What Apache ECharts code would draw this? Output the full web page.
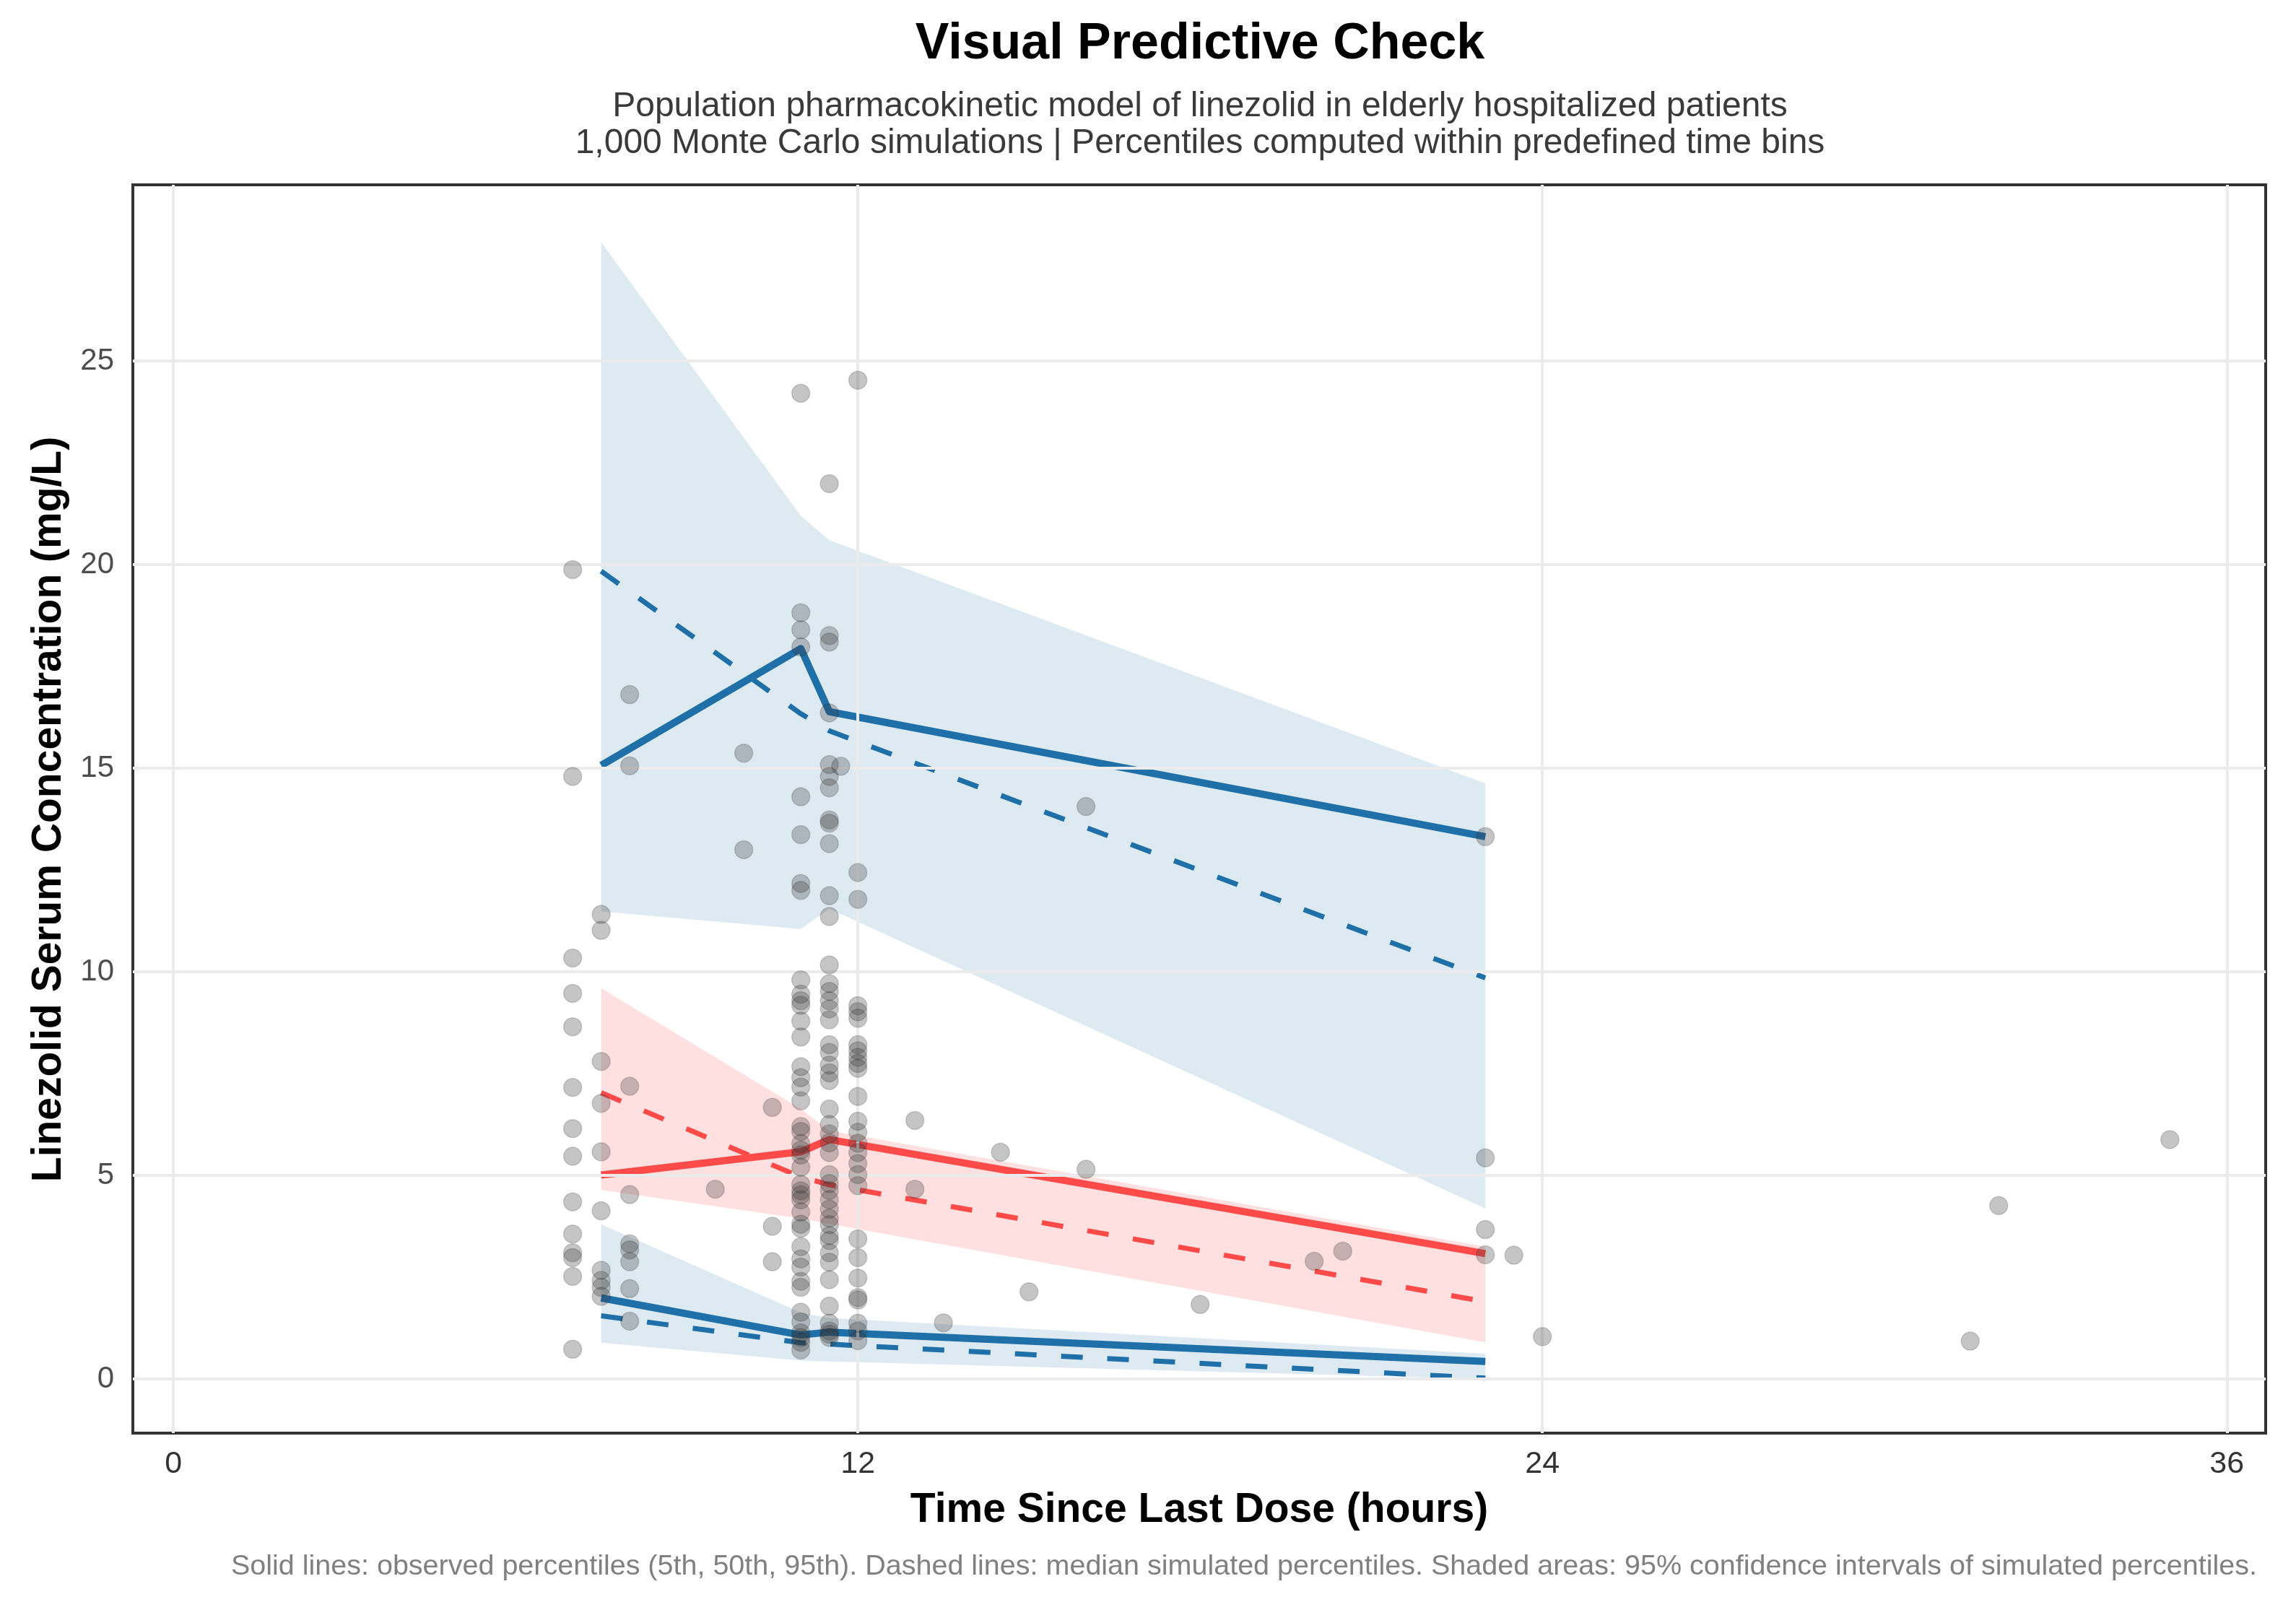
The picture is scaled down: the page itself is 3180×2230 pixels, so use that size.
<!DOCTYPE html>
<html>
<head>
<meta charset="utf-8">
<script src="https://cdn.jsdelivr.net/npm/echarts@6/dist/echarts.min.js"></script>
<style>
html,body{margin:0;padding:0;background:#fff;}
#chart{width:3180px;height:2230px;}
</style>
</head>
<body>
<div id="chart"></div>
<script>
// ---------- DATA ----------
const binTimes = [7.5, 11, 11.5, 23];
// observed percentiles (solid lines)
const obsP05 = [1.99, 1.08, 1.15, 0.43];
const obsP50 = [5.01, 5.58, 5.88, 3.08];
const obsP95 = [15.07, 17.94, 16.39, 13.32];
// median of simulated percentiles (dashed lines)
const simP05Med = [1.55, 0.89, 0.855, 0.02];
const simP50Med = [7.03, 4.96, 4.77, 1.90];
const simP95Med = [19.84, 16.34, 15.92, 9.85];
// 95% CI of simulated percentiles (shaded areas)
const simP05Lo = [0.89, 0.45, 0.43, 0.0];
const simP05Hi = [3.80, 1.63, 1.50, 0.62];
const simP50Lo = [4.64, 3.94, 3.81, 0.90];
const simP50Hi = [9.60, 6.63, 6.10, 3.25];
const simP95Lo = [11.48, 11.05, 11.55, 4.19];
const simP95Hi = [27.92, 21.2, 20.6, 14.63];

// observed concentrations, grouped by sampling time
const obsTimes = [7.0, 7.5, 8.0, 9.5, 10.0, 10.5, 11.0, 11.5, 11.7, 12.0, 13.0, 13.5, 14.5, 15.0, 16.0, 18.0, 20.0, 20.5, 23.0, 23.5, 24.0, 31.5, 32.0, 35.0];
const obsConcs = [
  [19.88, 14.80, 10.34, 9.47, 8.65, 7.16, 6.15, 5.47, 4.35, 3.56, 3.10, 2.98, 2.52, 0.73],
  [11.41, 11.02, 7.80, 6.77, 5.58, 4.13, 2.67, 2.42, 2.25, 2.03],
  [16.81, 15.06, 7.19, 4.53, 3.32, 3.17, 2.88, 2.22, 1.42],
  [4.66],
  [15.37, 13.00],
  [6.67, 3.75, 2.88],
  [24.21, 18.82, 18.40, 17.98, 14.30, 13.37, 12.17, 12.00, 9.80, 9.45, 9.29, 9.18, 8.79, 8.40, 7.67, 7.40, 7.17, 6.83, 6.20, 6.08, 5.78, 5.62, 5.50, 5.20, 4.78, 4.62, 4.52, 4.40, 4.10, 3.80, 3.70, 3.25, 2.95, 2.75, 2.40, 2.25, 1.64, 1.40, 1.13, 1.02, 0.90, 0.71],
  [21.99, 18.26, 18.10, 16.36, 15.09, 14.80, 14.52, 13.73, 13.65, 13.15, 11.87, 11.36, 10.17, 9.71, 9.52, 9.29, 9.09, 8.82, 8.21, 8.02, 7.71, 7.52, 7.33, 6.63, 6.25, 6.02, 5.80, 5.56, 5.02, 4.80, 4.63, 4.40, 4.17, 3.95, 3.79, 3.52, 3.40, 3.10, 2.87, 2.44, 1.79, 1.37, 1.18, 1.10, 1.02],
  [15.05],
  [24.53, 12.44, 11.78, 9.17, 9.02, 8.86, 8.21, 8.06, 7.90, 7.75, 7.63, 6.94, 6.33, 6.06, 5.79, 5.56, 5.29, 5.02, 4.75, 3.44, 2.98, 2.48, 2.00, 1.94, 1.37, 1.18, 0.94],
  [6.35, 4.66],
  [1.38],
  [5.57],
  [2.14],
  [14.06, 5.15],
  [1.83],
  [2.89],
  [3.14],
  [13.32, 5.43, 3.67, 3.05],
  [3.04],
  [1.04],
  [0.93],
  [4.26],
  [5.88]
];

const xTicks = [0, 12, 24, 36];
const yTicks = [0, 5, 10, 15, 20, 25];

const titleText = 'Visual Predictive Check';
const subtitle1 = 'Population pharmacokinetic model of linezolid in elderly hospitalized patients';
const subtitle2 = '1,000 Monte Carlo simulations | Percentiles computed within predefined time bins';
const xTitle = 'Time Since Last Dose (hours)';
const yTitle = 'Linezolid Serum Concentration (mg/L)';
const captionText = 'Solid lines: observed percentiles (5th, 50th, 95th). Dashed lines: median simulated percentiles. Shaded areas: 95% confidence intervals of simulated percentiles.';

// ---------- BUILD ----------
const FONT = '"Liberation Sans", Arial, Helvetica, sans-serif';
const BLUE = '#1f6fa8';
const RED = '#ff4a4a';
const BLUE_FILL = 'rgba(31,111,168,0.15)';
const RED_FILL = 'rgba(255,74,74,0.17)';

const pairs = (xs, ys) => xs.map((x, i) => [x, ys[i]]);

function bandSeries(lo, hi, fill) {
  return {
    type: 'custom',
    silent: true,
    z: 2,
    animation: false,
    clip: true,
    data: binTimes.map((t, i) => [t, lo[i], hi[i]]),
    encode: { x: 0, y: [1, 2] },
    renderItem: function (params, api) {
      if (params.dataIndex !== 0) return null;
      const pts = [];
      for (let i = 0; i < binTimes.length; i++) pts.push(api.coord([binTimes[i], hi[i]]));
      for (let i = binTimes.length - 1; i >= 0; i--) pts.push(api.coord([binTimes[i], lo[i]]));
      return { type: 'polygon', shape: { points: pts }, style: { fill: fill, stroke: null } };
    }
  };
}

function lineSeries(vals, color, dashed) {
  return {
    type: 'line',
    silent: true,
    z: 3,
    animation: false,
    symbol: 'none',
    data: pairs(binTimes, vals),
    lineStyle: dashed
      ? { color: color, width: 7, type: [30, 34], cap: 'butt' }
      : { color: color, width: 10, type: 'solid', cap: 'butt', join: 'round' }
  };
}

const points = [];
obsTimes.forEach((t, i) => obsConcs[i].forEach(c => points.push([t, c])));

const gridLines = [];
yTicks.forEach(v => gridLines.push({ yAxis: v }));
xTicks.forEach(v => gridLines.push({ xAxis: v }));

const chart = echarts.init(document.getElementById('chart'), null, { renderer: 'canvas' });

const option = {
  backgroundColor: '#ffffff',
  animation: false,
  textStyle: { fontFamily: FONT },
  grid: {
    left: 184, right: 42, top: 256, bottom: 245,
    show: true, borderColor: '#333333', borderWidth: 4, backgroundColor: '#ffffff'
  },
  xAxis: {
    type: 'value', min: -0.71, max: 36.68,
    axisLine: { show: false },
    splitLine: { show: false },
    axisTick: { show: true, customValues: xTicks, length: 14, lineStyle: { color: '#333333', width: 3 } },
    axisLabel: { customValues: xTicks, fontSize: 43, color: '#333333', fontFamily: FONT, margin: 22 }
  },
  yAxis: {
    type: 'value', min: -1.33, max: 29.33,
    axisLine: { show: false },
    splitLine: { show: false },
    axisTick: { show: true, customValues: yTicks, length: 14, lineStyle: { color: '#333333', width: 3 } },
    axisLabel: { customValues: yTicks, fontSize: 42, color: '#4d4d4d', fontFamily: FONT, margin: 26 }
  },
  series: [
    {
      type: 'line', data: [], silent: true, z: 1, animation: false,
      markLine: {
        silent: true, symbol: ['none', 'none'], animation: false,
        label: { show: false },
        lineStyle: { color: '#ebebeb', width: 4, type: 'solid' },
        data: gridLines
      }
    },
    bandSeries(simP95Lo, simP95Hi, BLUE_FILL),
    bandSeries(simP50Lo, simP50Hi, RED_FILL),
    bandSeries(simP05Lo, simP05Hi, BLUE_FILL),
    lineSeries(simP95Med, BLUE, true),
    lineSeries(simP50Med, RED, true),
    lineSeries(simP05Med, BLUE, true),
    lineSeries(obsP95, BLUE, false),
    lineSeries(obsP50, RED, false),
    lineSeries(obsP05, BLUE, false),
    {
      type: 'scatter', silent: true, z: 5, animation: false,
      symbol: 'circle', symbolSize: 25,
      itemStyle: { color: 'rgba(55,55,55,0.36)', borderColor: 'rgba(30,30,30,0.22)', borderWidth: 1.5 },
      data: points
    }
  ],
  graphic: [
    { type: 'text', x: 1662, y: 62, style: { text: titleText, font: 'bold 70px ' + FONT, fill: '#000000', align: 'center', verticalAlign: 'middle' } },
    { type: 'text', x: 1662, y: 148, style: { text: subtitle1, font: '48px ' + FONT, fill: '#3a3a3a', align: 'center', verticalAlign: 'middle' } },
    { type: 'text', x: 1662, y: 199, style: { text: subtitle2, font: '48px ' + FONT, fill: '#3a3a3a', align: 'center', verticalAlign: 'middle' } },
    { type: 'text', x: 1661, y: 2092, style: { text: xTitle, font: 'bold 57px ' + FONT, fill: '#000000', align: 'center', verticalAlign: 'middle' } },
    { type: 'text', x: 68, y: 1121, rotation: Math.PI / 2, style: { text: yTitle, font: 'bold 57px ' + FONT, fill: '#000000', align: 'center', verticalAlign: 'middle' } },
    { type: 'text', x: 3126, y: 2170, style: { text: captionText, font: '39.5px ' + FONT, fill: '#808080', align: 'right', verticalAlign: 'middle' } }
  ]
};

chart.setOption(option);
</script>
</body>
</html>
